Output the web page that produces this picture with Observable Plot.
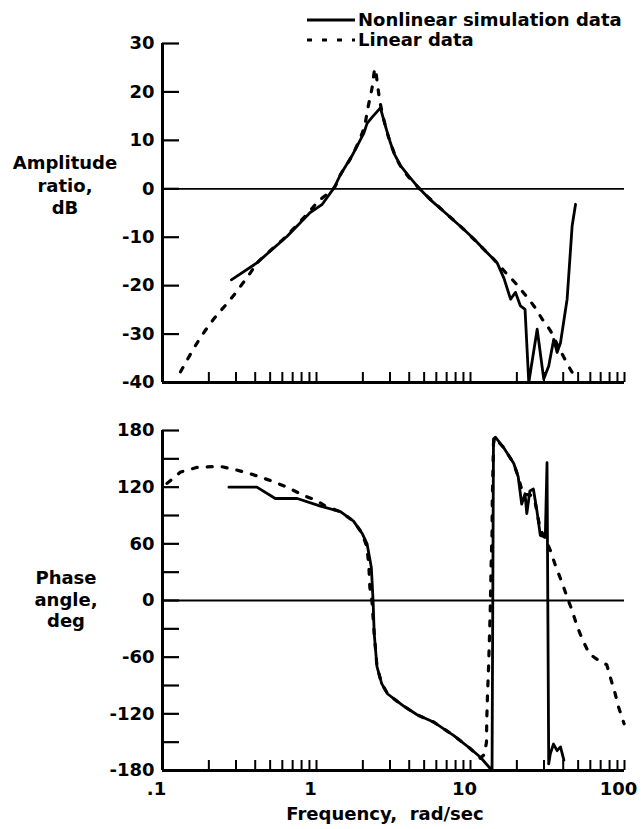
<!DOCTYPE html>
<html><head><meta charset="utf-8">
<script src="https://cdn.jsdelivr.net/npm/d3@7"></script>
<script src="https://cdn.jsdelivr.net/npm/@observablehq/plot@0.6"></script>
<style>
body{margin:0;background:#fff;}
#wrap{position:relative;width:642px;height:829px;font-family:"DejaVu Sans",sans-serif;font-weight:bold;font-size:18px;color:#000;background:#fff;}
.lab{position:absolute;text-align:center;white-space:nowrap;}
.pl{position:absolute;left:0;}
</style></head><body><div id="wrap"></div>
<script>
// ---------- data ----------
// Amplitude ratio, dB — nonlinear simulation data (solid)
const ampFreqNL = [0.28, 0.41, 0.645, 0.91, 1.09, 1.30, 1.43, 1.7, 2.03, 2.13, 2.3, 2.6, 2.8, 3.02, 3.2, 3.51, 4.0, 4.61, 5.5, 7.06, 9.06, 10.5, 12.2, 14.9, 16.5, 18.2, 19.6, 21.1, 22.6, 23.9, 27.1, 29.9, 32.2, 34.7, 36.5, 38.4, 42.4, 45.7, 48.1];
const ampNL     = [-18.8, -15.3, -9.8, -4.9, -3.2, 0.2, 2.9, 6.8, 11.5, 13.5, 14.8, 16.7, 13.0, 9.5, 7.2, 4.8, 2.5, 0.2, -2.3, -5.3, -8.4, -10.3, -12.5, -15.3, -18.5, -22.8, -21.4, -24.2, -24.9, -40, -29.0, -39.3, -36.6, -31.1, -33.8, -31.8, -22.8, -7.7, -3.2];
// Amplitude ratio, dB — linear data (dashed)
const ampFreqL = [0.131, 0.168, 0.215, 0.277, 0.373, 0.41, 0.645, 0.91, 1.035, 1.30, 1.43, 1.7, 2.03, 2.15, 2.3, 2.4, 2.5, 2.6, 2.8, 3.02, 3.51, 4.61, 7.06, 9.06, 12.2, 14.9, 16.9, 19.5, 22.5, 25.8, 29.2, 33.0, 36.5, 40.4, 45.7, 49.4];
const ampL     = [-37.8, -31.8, -26.9, -22.8, -17.3, -15.4, -9.6, -4.5, -2.5, 0.2, 2.9, 6.8, 12.5, 16.5, 21, 24.8, 21, 17.5, 13, 9.5, 4.7, 0.2, -5.3, -8.4, -12.5, -15.3, -17.3, -19.4, -21.8, -24.2, -26.9, -29.3, -32.1, -34.8, -37.9, -39.3];
// Phase angle, deg — nonlinear simulation data (solid)
const phFreqNL = [0.27, 0.41, 0.54, 0.75, 1.06, 1.43, 1.74, 1.98, 2.13, 2.27, 2.33, 2.37, 2.47, 2.65, 2.9, 3.3, 3.7, 4.5, 5.8, 7.8, 10, 11.6, 13.8, 14.1, 14.5, 16.4, 19.1, 20.4, 21.5, 22.6, 23.2, 24.3, 25.6, 27, 28.4, 30.6, 31.4, 32.2, 33, 34.6, 36.5, 38.4, 40.4];
const phNL     = [120, 120, 108, 108, 100, 94, 84, 71, 60, 35, 0, -35, -70, -88, -99, -106, -112, -121, -129, -143, -157, -166, -180, 171, 173, 162, 145, 131, 102, 113, 92, 116, 118, 95, 69, 67, 146, -173, -162, -152, -159, -155, -169];
// Phase angle, deg — linear data (dashed)
const phFreqL = [0.107, 0.131, 0.168, 0.238, 0.306, 0.392, 0.502, 0.645, 0.83, 1.0, 1.17, 1.43, 1.74, 1.98, 2.13, 2.19, 2.22, 2.29, 2.37, 2.47, 2.65, 2.9, 3.3, 3.7, 4.5, 5.8, 7.8, 10, 11.6, 12.3, 12.7, 12.75, 12.9, 13.1, 13.3, 13.45, 13.6, 13.8, 13.85, 14.0, 14.1, 14.4, 16.4, 19.1, 20.4, 22, 24.3, 26, 28.4, 30.6, 33.0, 35.6, 39.3, 42.4, 45.7, 49.4, 53.6, 59.1, 70.1, 76.7, 80.8, 87.1, 91.6, 99.4];
const phL     = [124, 136, 141, 142, 138, 133, 127, 120, 111, 106, 99, 94, 84, 71, 56, 35, 14, 0, -35, -70, -88, -99, -106, -112, -121, -129, -143, -157, -167, -163, -150, -127, -99, -71, -35, -7, 35, 71, 106, 141, 166, 172, 162, 145, 131, 112, 112, 108, 75, 66, 53, 37, 19, 3.5, -10.6, -28, -42, -56.5, -65, -68, -81, -99, -113, -130.6];

const freqDomain = [0.1, 100];
const freqLabels = [0.1, 1, 10, 100];
const freqMinor = [0.2,0.3,0.4,0.5,0.6,0.7,0.8,0.9,1, 2,3,4,5,6,7,8,9,10, 20,30,40,50,60,70,80,90,100];
const ampDomain = [-40, 30];
const ampLabels = [30, 20, 10, 0, -10, -20, -30, -40];
const ampTicks = [30, 20, 10, 0, -10, -20, -30];
const phDomain = [-180, 180];
const phLabels = [180, 120, 60, 0, -60, -120, -180];
const phTicks = [180, 150, 120, 90, 60, 30, 0, -30, -60, -90, -120, -150];
const seriesNames = ["Nonlinear simulation data", "Linear data"];

// ---------- layout ----------
const W = 642, ML = 162, MR = 18;
const frameW = W - ML - MR;
const dash = "5,10";
const st = {fontFamily: "DejaVu Sans, sans-serif", fontSize: "18px", fontWeight: "bold", color: "black", background: "white", overflow: "visible"};
const hyphen = d => String(d);

const wrap = document.getElementById("wrap");

// top plot
const H1 = 400, MT1 = 43, MB1 = 18, fh1 = H1 - MT1 - MB1;
const p1 = Plot.plot({
  width: W, height: H1, marginLeft: ML, marginRight: MR, marginTop: MT1, marginBottom: MB1,
  x: {type: "log", domain: freqDomain, axis: null},
  y: {domain: ampDomain},
  style: st,
  marks: [
    Plot.axisY(ampLabels, {tickSize: 0, tickPadding: 8, label: null, fontSize: 18, fontWeight: "bold", tickFormat: hyphen}),
    Plot.tickY(ampTicks, {y: d => d, insetRight: frameW - 17, strokeWidth: 2.2}),
    Plot.tickX(freqMinor, {x: d => d, insetTop: fh1 - 10, strokeWidth: 2}),
    Plot.ruleY([0], {strokeWidth: 1.8}),
    Plot.ruleX([freqDomain[0]], {strokeWidth: 3}),
    Plot.ruleY([ampDomain[0]], {strokeWidth: 3}),
    Plot.line(ampL, {x: ampFreqL, y: ampL, strokeWidth: 3.2, strokeDasharray: dash, curve: "catmull-rom"}),
    Plot.line(ampNL, {x: ampFreqNL, y: ampNL, strokeWidth: 2.8, curve: "linear"})
  ]
});
p1.classList.add("pl"); p1.style.top = "0px";
wrap.appendChild(p1);

// bottom plot
const H2 = 429, MT2 = 30, MB2 = 59, fh2 = H2 - MT2 - MB2;
const p2 = Plot.plot({
  width: W, height: H2, marginLeft: ML, marginRight: MR, marginTop: MT2, marginBottom: MB2,
  x: {type: "log", domain: freqDomain},
  y: {domain: phDomain},
  style: st,
  marks: [
    Plot.axisY(phLabels, {tickSize: 0, tickPadding: 8, label: null, fontSize: 18, fontWeight: "bold", tickFormat: hyphen}),
    Plot.axisX(freqLabels, {tickSize: 0, tickPadding: 12, dx: -6, label: null, fontSize: 18, fontWeight: "bold",
      tickFormat: d => d < 1 ? String(d).replace(/^0/, "") : String(d)}),
    Plot.tickY(phTicks, {y: d => d, insetRight: frameW - 17, strokeWidth: 2.2}),
    Plot.tickX(freqMinor, {x: d => d, insetTop: fh2 - 10, strokeWidth: 2}),
    Plot.ruleY([0], {strokeWidth: 1.8}),
    Plot.ruleX([freqDomain[0]], {strokeWidth: 3}),
    Plot.ruleY([phDomain[0]], {strokeWidth: 3}),
    Plot.line(phL, {x: phFreqL, y: phL, strokeWidth: 3.2, strokeDasharray: dash}),
    Plot.line(phNL, {x: phFreqNL, y: phNL, strokeWidth: 2.8})
  ]
});
p2.classList.add("pl"); p2.style.top = "400px";
wrap.appendChild(p2);

// legend
const leg = document.createElementNS("http://www.w3.org/2000/svg", "svg");
leg.setAttribute("width", 52); leg.setAttribute("height", 50);
leg.style.position = "absolute"; leg.style.left = "305px"; leg.style.top = "0px";
leg.innerHTML = `<line x1="2" x2="50" y1="20" y2="20" stroke="black" stroke-width="2.8"/>
<line x1="2" x2="50" y1="40" y2="40" stroke="black" stroke-width="3.2" stroke-dasharray="${dash}"/>`;
wrap.appendChild(leg);

function addText(lines, left, width, top, lh) {
  const d = document.createElement("div");
  d.className = "lab";
  d.style.left = left + "px"; d.style.width = width + "px"; d.style.top = top + "px";
  d.style.lineHeight = lh + "px";
  d.innerHTML = lines.join("<br>");
  wrap.appendChild(d);
  return d;
}
const l1 = addText([seriesNames[0]], 358, 300, 9, 22); l1.style.textAlign = "left";
const l2 = addText([seriesNames[1]], 358, 300, 29, 22); l2.style.textAlign = "left";
addText(["Amplitude", "ratio,", "dB"], 0, 130, 152, 22.5);
addText(["Phase", "angle,", "deg"], 0, 132, 567, 21.5);
addText(["Frequency,&nbsp; rad/sec"], 235, 300, 803, 22);
</script></body></html>
